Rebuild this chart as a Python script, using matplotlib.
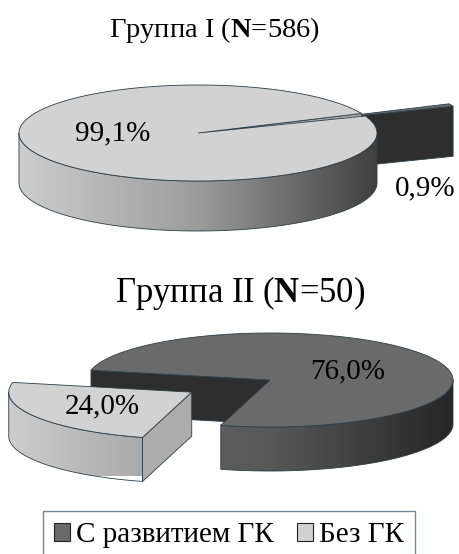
import numpy as np
import matplotlib.pyplot as plt
from matplotlib.colors import LinearSegmentedColormap
from matplotlib.patches import Polygon, Patch

# шрифт с засечками, жирная N в заголовках через mathtext
plt.rcParams['font.family'] = ['Liberation Serif', 'DejaVu Serif']
plt.rcParams['mathtext.fontset'] = 'custom'
plt.rcParams['mathtext.rm'] = 'Liberation Serif'
plt.rcParams['mathtext.bf'] = 'Liberation Serif:bold'

# данные
categories = ['С развитием ГК', 'Без ГК']
group_names = ['Группа I', 'Группа II']
group_n = [586, 50]
shares_1 = [0.9, 99.1]
shares_2 = [76.0, 24.0]
labels_1 = ['0,9%', '99,1%']
labels_2 = ['76,0%', '24,0%']

# цвета: верх, бок (слева -> направо), срез
top_color = ['#6a6a6a', '#d2d2d2']
side_cmap = [LinearSegmentedColormap.from_list('dark', ['#686868', '#585858', '#262626']),
             LinearSegmentedColormap.from_list('light', ['#cdcdcd', '#9c9c9c', '#404040'])]
cut_color = ['#2e2e2e', '#acacac']
edge = '#2c3d48'


def pie3d(ax, values, start, explode, cx, cy, rx, ry, h):
    total = sum(values)
    slices = []
    ang = start
    for i, v in enumerate(values):
        span = 360.0 * v / total
        slices.append((i, ang - span, ang))  # по часовой стрелке
        ang -= span
    # дальние сектора рисуем первыми
    slices.sort(key=lambda s: -np.sin(np.radians((s[1] + s[2]) / 2)))

    for n, (i, a, b) in enumerate(slices):
        z0 = 2 + n
        m = np.radians((a + b) / 2)
        ox, oy = explode[i] * np.cos(m), explode[i] * np.sin(m)

        def pt(r, th, z):
            return (cx + rx * (ox + r * np.cos(th)), cy - ry * (oy + r * np.sin(th)) + z)

        # срезы сектора
        for th, vis in ((np.radians(a), np.cos(np.radians(a)) > 0),
                        (np.radians(b), np.cos(np.radians(b)) < 0)):
            if vis:
                quad = [pt(0, th, 0), pt(1, th, 0), pt(1, th, h), pt(0, th, h)]
                ax.add_patch(Polygon(quad, closed=True, facecolor=cut_color[i],
                                     edgecolor=edge, linewidth=0.6, zorder=z0))

        # боковая поверхность (видна только передняя половина), градиент слева направо
        for k in range(-1, 3):
            lo, hi = max(a, 180 + 360 * k), min(b, 360 + 360 * k)
            if hi <= lo:
                continue
            ths = np.radians(np.linspace(lo, hi, 200))
            outline = [pt(1, t, 0) for t in ths] + [pt(1, t, h) for t in ths[::-1]]
            side = Polygon(outline, closed=True, facecolor='none',
                           edgecolor=edge, linewidth=0.6, zorder=z0 + 0.2)
            ax.add_patch(side)
            x0 = cx + rx * (ox - 1)
            x1 = cx + rx * (ox + 1)
            grad = ax.imshow(np.linspace(0, 1, 256)[None, :], cmap=side_cmap[i],
                             aspect='auto', extent=(x0, x1, cy + ry + h + 5, cy - ry - 5),
                             interpolation='bilinear', zorder=z0 + 0.1)
            grad.set_clip_path(side)

        # верхняя грань
        ths = np.radians(np.linspace(a, b, max(int(b - a) * 2, 3)))
        top = [pt(0, 0, 0)] + [pt(1, t, 0) for t in ths]
        ax.add_patch(Polygon(top, closed=True, facecolor=top_color[i],
                             edgecolor=edge, linewidth=0.6, zorder=z0 + 0.3))


fig = plt.figure(figsize=(4.6, 5.54), dpi=100)
ax = fig.add_axes([0, 0, 1, 1])

# Группа I
pie3d(ax, shares_1, start=24, explode=[0.53, 0], cx=198, cy=133, rx=179, ry=48, h=50)
ax.text(214, 37, group_names[0] + r' ($\mathbf{N}$=' + str(group_n[0]) + ')',
        ha='center', va='baseline', fontsize=20.5, zorder=10)
ax.text(425, 195, labels_1[0], ha='center', va='baseline', fontsize=21, zorder=10)
ax.text(113, 140, labels_1[1], ha='center', va='baseline', fontsize=21, zorder=10)

# Группа II
pie3d(ax, shares_2, start=168, explode=[0, 0.5], cx=270, cy=380, rx=183, ry=47, h=44)
ax.text(240, 302, group_names[1] + r' ($\mathbf{N}$=' + str(group_n[1]) + ')',
        ha='center', va='baseline', fontsize=25, zorder=10)
ax.text(348, 378, labels_2[0], ha='center', va='baseline', fontsize=21, zorder=10)
ax.text(102, 413, labels_2[1], ha='center', va='baseline', fontsize=21, zorder=10)

ax.set_xlim(0, 460)
ax.set_ylim(554, 0)
ax.axis('off')

# легенда
handles = [Patch(facecolor=top_color[0], edgecolor='#222222', linewidth=0.8),
           Patch(facecolor=top_color[1], edgecolor='#222222', linewidth=0.8)]
leg = ax.legend(handles, categories, ncol=2, loc='upper left',
                bbox_to_anchor=(43, 511), bbox_transform=ax.transData,
                fontsize=21, handlelength=0.55, handleheight=0.55,
                handletextpad=0.2, columnspacing=0.8, borderpad=0.38,
                borderaxespad=0, fancybox=False, framealpha=1)
leg.get_frame().set_edgecolor('#6d8a99')
leg.get_frame().set_linewidth(1.0)
leg.set_zorder(20)

fig.savefig('out.png', dpi=100)
